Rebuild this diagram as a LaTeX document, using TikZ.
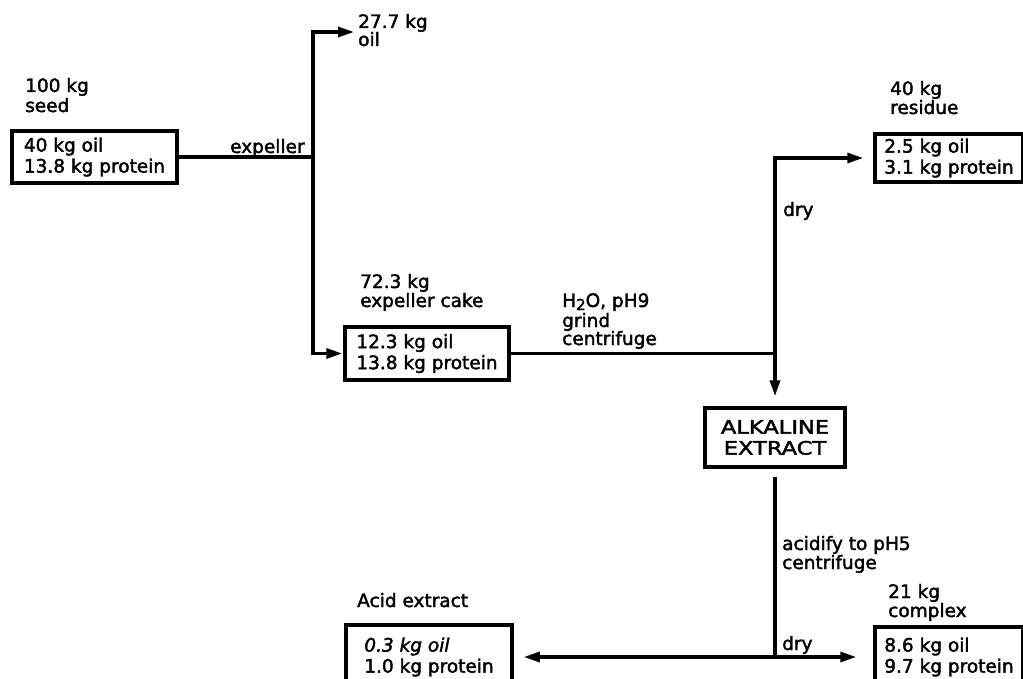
\documentclass[tikz,border=0pt]{standalone}
\usepackage{fontspec}
\setmainfont{DejaVu Sans}[FakeBold=2]
\usetikzlibrary{arrows.meta}
\begin{document}
\begin{tikzpicture}[x=1pt,y=-1pt,
  fs/.style={font=\fontsize{18.5}{21}\selectfont},
  lbl/.style={fs, anchor=base west, inner sep=0pt},
  box/.style={draw, line width=3.5pt, fs, align=left, inner sep=0pt},
  flow/.style={line width=3.2pt},
  arr/.style={flow, -{Triangle[length=16pt,width=10pt]}},
]
\useasboundingbox (0,0) rectangle (1023,679);

% boxes
\node[box, minimum width=165pt, minimum height=52pt] (seed) at (94.5,157) {40 kg oil\\13.8 kg protein};
\node[box, minimum width=164pt, minimum height=53pt] (cake) at (427,353.5) {12.3 kg oil\\13.8 kg protein};
\node[box, minimum width=148pt, minimum height=48pt] (residue) at (949,158) {2.5 kg oil\\3.1 kg protein};
\node[box, minimum width=140pt, minimum height=59pt, align=center] (alk) at (775,437.5) {\scalebox{1.22}[1]{ALKALINE}\\\scalebox{1.22}[1]{EXTRACT}};
\node[box, minimum width=166pt, minimum height=64pt] (acid) at (429,657) {\itshape 0.3 kg oil\\1.0 kg protein};
\node[box, minimum width=148pt, minimum height=60pt] (complex) at (949,657) {8.6 kg oil\\9.7 kg protein};

% junctions
\coordinate (j1) at (313,157);
\coordinate (oiltip) at (354,32);
\coordinate (j2) at (775,353.5);
\coordinate (j3) at (775,657);

% connectors
\draw[flow] (seed.east) -- (j1);
\draw[arr] (j1) |- (oiltip);
\draw[arr, shorten >=1pt] (j1) |- (cake.west);
\draw[flow] (cake.east) -- (j2);
\draw[arr, shorten >=10pt] (j2) |- (residue.west);
\draw[arr, shorten >=10pt] (j2) -- (alk.north);
\draw[flow, shorten <=8pt] (alk.south) -- (j3);
\draw[arr, shorten >=10pt] (j3) -- (acid.east);
\draw[arr, shorten >=17pt] (j3) -- (complex.west);

% labels
\node[lbl] (l27a) at (358,28) {27.7 kg};
\node[lbl] (l27b) at (358,46) {oil};
\node[lbl] (l100a) at (25,92) {100 kg};
\node[lbl] (l100b) at (25,112) {seed};
\node[lbl] (lexp) at (230,153) {expeller};
\node[lbl] (l40a) at (890,95) {40 kg};
\node[lbl] (l40b) at (890,114) {residue};
\node[lbl] (l72a) at (360,288) {72.3 kg};
\node[lbl] (l72b) at (360,307) {expeller cake};
\node[lbl] (lh2o) at (562,307) {H\raisebox{-3pt}{\fontsize{15}{15}\selectfont 2}O, pH9};
\node[lbl] (lgrind) at (562,327) {grind};
\node[lbl] (lcent1) at (562,345) {centrifuge};
\node[lbl] (ldry1) at (783,216) {dry};
\node[lbl] (lacid1) at (782,550) {acidify to pH5};
\node[lbl] (lcent2) at (782,569) {centrifuge};
\node[lbl] (l21a) at (888,598) {21 kg};
\node[lbl] (l21b) at (888,617) {complex};
\node[lbl] (lacidx) at (357,607) {Acid extract};
\node[lbl] (ldry2) at (782,650) {dry};
\end{tikzpicture}
\end{document}
